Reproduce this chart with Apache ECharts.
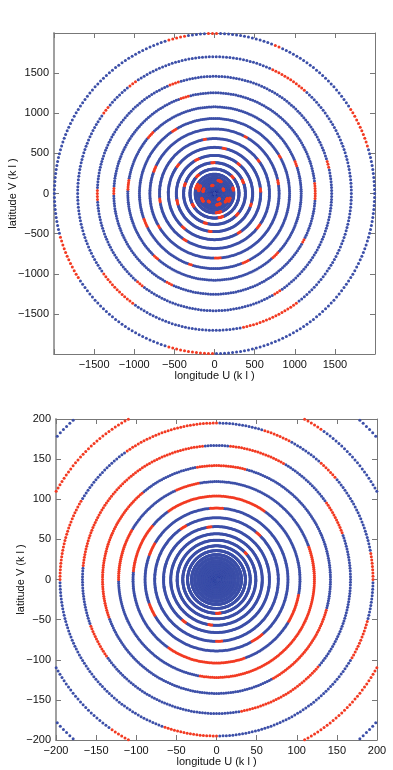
<!DOCTYPE html>
<html>
<head>
<meta charset="utf-8">
<script src="https://cdn.jsdelivr.net/npm/echarts@6/dist/echarts.min.js"></script>
<style>
  html, body { margin: 0; padding: 0; background: #fff; }
  #main { width: 393px; height: 770px; }
</style>
</head>
<body>
<div id="main"></div>
<script>
// ring radii (k lambda), outer to inner
const topRadii = [1995, 1705, 1460, 1255, 1080, 935, 805, 685, 575, 475, 385, 305, 240,
  200, 170, 145, 122, 104, 88, 75, 64, 54, 46, 39, 33, 28, 24, 20, 16, 12, 8, 4];
// angular ranges (deg) of the red points on each ring, same order as radii
const topRedArcs = [
  [[17, 33], [66, 69], [88, 93], [100, 107], [195, 212], [253, 270]],
  [[48, 65], [125, 129], [140, 144], [215, 234], [282, 307]],
  [[12, 16], [108, 113], [178, 184], [228, 232], [300, 305]],
  [[-3, 6], [104, 110], [176, 181], [241, 245], [330, 333]],
  [[18, 22], [134, 140], [170, 178], [225, 230], [312, 318]],
  [[28, 31], [120, 124], [200, 206], [250, 253], [292, 298]],
  [[8, 12], [60, 63], [155, 160], [210, 213], [270, 276]],
  [[35, 38], [98, 102], [185, 190], [236, 240], [320, 326]],
  [[2, 6], [75, 80], [140, 145], [225, 229], [300, 304]],
  [[48, 52], [115, 120], [190, 196], [262, 266], [340, 345]],
  [[20, 26], [90, 96], [160, 166], [250, 256], [315, 320]],
  [[40, 46], [130, 138], [205, 212], [280, 290]],
  [[10, 18], [150, 165], [275, 290]],
  [[150, 170], [330, 345]],
  [[60, 75], [200, 215], [320, 340]],
  [[155, 170], [280, 300]],
  [[20, 30], [230, 240]],
  [[100, 110]],
  [[300, 315]]
];

const bottomRadii = [267, 228, 195, 167, 142, 122, 104, 89, 77, 66, 57, 49, 42, 36, 31,
  27, 23, 20, 17, 14.5, 12, 10, 8, 6, 4, 2];
const bottomRedArcs = [
  [],
  [[55, 62], [100, 180], [235, 250], [290, 335]],
  [[0, 10], [40, 48], [62, 72], [90, 125], [150, 180], [250, 270], [330, 345]],
  [[20, 35], [60, 85], [95, 175], [200, 215], [280, 320]],
  [[75, 100], [130, 200], [300, 345]],
  [[0, 20], [100, 115], [150, 180], [260, 360]],
  [[55, 125], [140, 175], [235, 290], [330, 350]],
  [[85, 95], [150, 160], [200, 210], [300, 310]],
  [[45, 50], [120, 125], [270, 275]],
  [[95, 100], [230, 234]],
  [[260, 264]],
  [[40, 44]],
  [[270, 276]]
];

const topTickLabels = [-1500, -1000, -500, 0, 500, 1000, 1500];
const bottomTickLabels = [-200, -150, -100, -50, 0, 50, 100, 150, 200];

const topPointsPerRing = 250;
const bottomPointsPerRing = 300;

const BLUE = '#3c4fa8';
const RED = '#f23a22';
const FONT = "'Liberation Sans', sans-serif";

function ringPoints(radii, redArcs, count) {
  const blue = [];
  const red = [];
  radii.forEach((r, i) => {
    const arcs = redArcs[i] || [];
    for (let k = 0; k < count; k++) {
      const a = 360 * k / count;
      const isRed = arcs.some(([s, e]) => (a >= s && a <= e) || (a - 360 >= s && a - 360 <= e));
      const t = a * Math.PI / 180;
      (isRed ? red : blue).push([r * Math.cos(t), r * Math.sin(t)]);
    }
  });
  return { blue, red };
}

const fmt = (labels) => (v) => labels.includes(v) ? String(v).replace('-', '\u2212') : '';

function makeAxes(grid, range, interval, labels, xGap, yGap) {
  const common = {
    gridIndex: grid, type: 'value', min: -range, max: range, interval: interval,
    splitLine: { show: false },
    axisTick: { inside: true, length: 5, lineStyle: { color: '#777' } },
    axisLine: { onZero: false, lineStyle: { color: '#777', width: 1 } }
  };
  const nameStyle = { color: '#111', fontSize: 11, fontFamily: FONT };
  const labelStyle = { color: '#111', fontSize: 11, fontFamily: FONT, margin: 5, formatter: fmt(labels) };
  const x = [
    Object.assign({}, common, {
      position: 'bottom', axisLabel: labelStyle,
      name: 'longitude U (k l )', nameLocation: 'middle', nameGap: xGap,
      nameMoveOverlap: false, nameTextStyle: nameStyle
    }),
    Object.assign({}, common, { position: 'top', axisLabel: { show: false } })
  ];
  const y = [
    Object.assign({}, common, {
      position: 'left', axisLabel: labelStyle,
      axisLine: { onZero: false, lineStyle: { color: '#a0a0a0', width: 2 } },
      name: 'latitude V (k l )', nameLocation: 'middle', nameGap: yGap,
      nameMoveOverlap: false, nameTextStyle: nameStyle
    }),
    Object.assign({}, common, { position: 'right', axisLabel: { show: false } })
  ];
  return { x, y };
}

const topAx = makeAxes(0, 2000, 500, topTickLabels, 16, 36);
const botAx = makeAxes(1, 200, 50, bottomTickLabels, 16, 30);

const topPts = ringPoints(topRadii, topRedArcs, topPointsPerRing);
const botPts = ringPoints(bottomRadii, bottomRedArcs, bottomPointsPerRing);

function scatter(data, color, xi, yi) {
  return {
    type: 'scatter', data: data, xAxisIndex: xi, yAxisIndex: yi,
    symbol: 'circle', symbolSize: 3, silent: true,
    progressive: 0, progressiveThreshold: 100000,
    itemStyle: { color: color, opacity: 1 }
  };
}

const chart = echarts.init(document.getElementById('main'));
chart.setOption({
  animation: false,
  backgroundColor: '#fff',
  grid: [
    { left: 54, top: 33, width: 321, height: 321, outerBoundsMode: 'none', containLabel: false },
    { left: 56, top: 419, width: 321, height: 321, outerBoundsMode: 'none', containLabel: false }
  ],
  xAxis: topAx.x.concat(botAx.x),
  yAxis: topAx.y.concat(botAx.y),
  series: [
    scatter(topPts.blue, BLUE, 0, 0),
    scatter(topPts.red, RED, 0, 0),
    scatter(botPts.blue, BLUE, 2, 2),
    scatter(botPts.red, RED, 2, 2)
  ]
});
</script>
</body>
</html>
